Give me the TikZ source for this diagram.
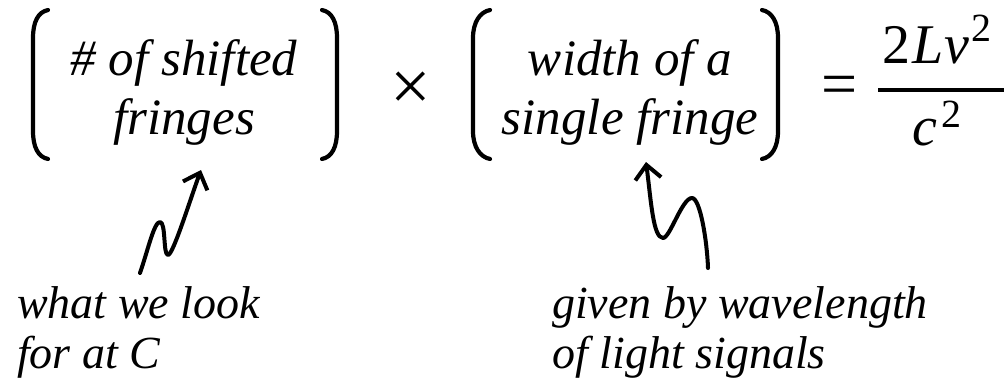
\documentclass[tikz,border=0pt]{standalone}
\usepackage{fontspec}
\setmainfont{Liberation Serif}
\usetikzlibrary{arrows.meta}

\begin{document}
\begin{tikzpicture}[
    x=1pt, y=-1pt,
    factor/.style={align=center, inner sep=0pt, font=\fontsize{51}{59}\selectfont\itshape},
    note/.style={align=left, inner sep=0pt, anchor=north west, font=\fontsize{46}{50}\selectfont\itshape},
    sym/.style={inner sep=0pt, font=\fontsize{56}{56}\selectfont},
    paren/.style={line width=4.2pt, line cap=round},
    squiggle/.style={-{Straight Barb[length=14pt,width=26pt]}, line width=4pt, line cap=round, line join=round}
]
    \useasboundingbox (0,0) rectangle (1008,380);

    % the two factors in brackets
    \node [factor] (shifted) at (184,92) {\# of shifted\\fringes};
    \node [factor] (width) at (630,92) {width of a\\single fringe};

    \draw [paren] (48,10) .. controls (38,12) and (33,22) .. (33,38) -- (33,131) .. controls (33,147) and (38,157) .. (48,159);
    \draw [paren] (322,10) .. controls (332,12) and (337,22) .. (337,38) -- (337,131) .. controls (337,147) and (332,157) .. (322,159);
    \draw [paren] (490,10) .. controls (480,12) and (473,22) .. (473,38) -- (473,131) .. controls (473,147) and (480,157) .. (490,159);
    \draw [paren] (762,10) .. controls (772,12) and (778,22) .. (778,38) -- (778,131) .. controls (778,147) and (772,157) .. (762,159);

    \node [sym, font=\fontsize{72}{72}\selectfont] (times) at (411,91) {×};
    \node [sym, font=\fontsize{64}{64}\selectfont] (equals) at (840,91) {=};

    % right hand side
    \node [sym, anchor=base] (numer) at (937,63) {2\kern2pt\textit{L\kern1pt v}\kern2pt\raisebox{22pt}{\fontsize{40}{40}\selectfont 2}};
    \node [sym, anchor=base] (denom) at (937,145) {\textit{c}\kern4pt\raisebox{18pt}{\fontsize{40}{40}\selectfont 2}};
    \draw [line width=3.2pt] (878,90) -- (1004,90);

    % notes
    \node [note] (look) at (17,286) {what we look\\for at C};
    \node [note] (wave) at (552,286) {given by wavelength\\of light signals};

    \coordinate (lookstart) at (140,273);
    \coordinate (shiftedtip) at (201,170);
    \coordinate (wavestart) at (708,268);
    \coordinate (widthtip) at (646,162);

    \draw [squiggle] (lookstart) .. controls (148,250) and (154,222) .. (160,222) .. controls (166,222) and (163,255) .. (168,255) .. controls (173,255) and (190,200) .. (shiftedtip);
    \draw [squiggle] (wavestart) .. controls (707,240) and (700,198) .. (692,198) .. controls (682,198) and (670,238) .. (663,238) .. controls (653,238) and (651,200) .. (widthtip);
\end{tikzpicture}
\end{document}
